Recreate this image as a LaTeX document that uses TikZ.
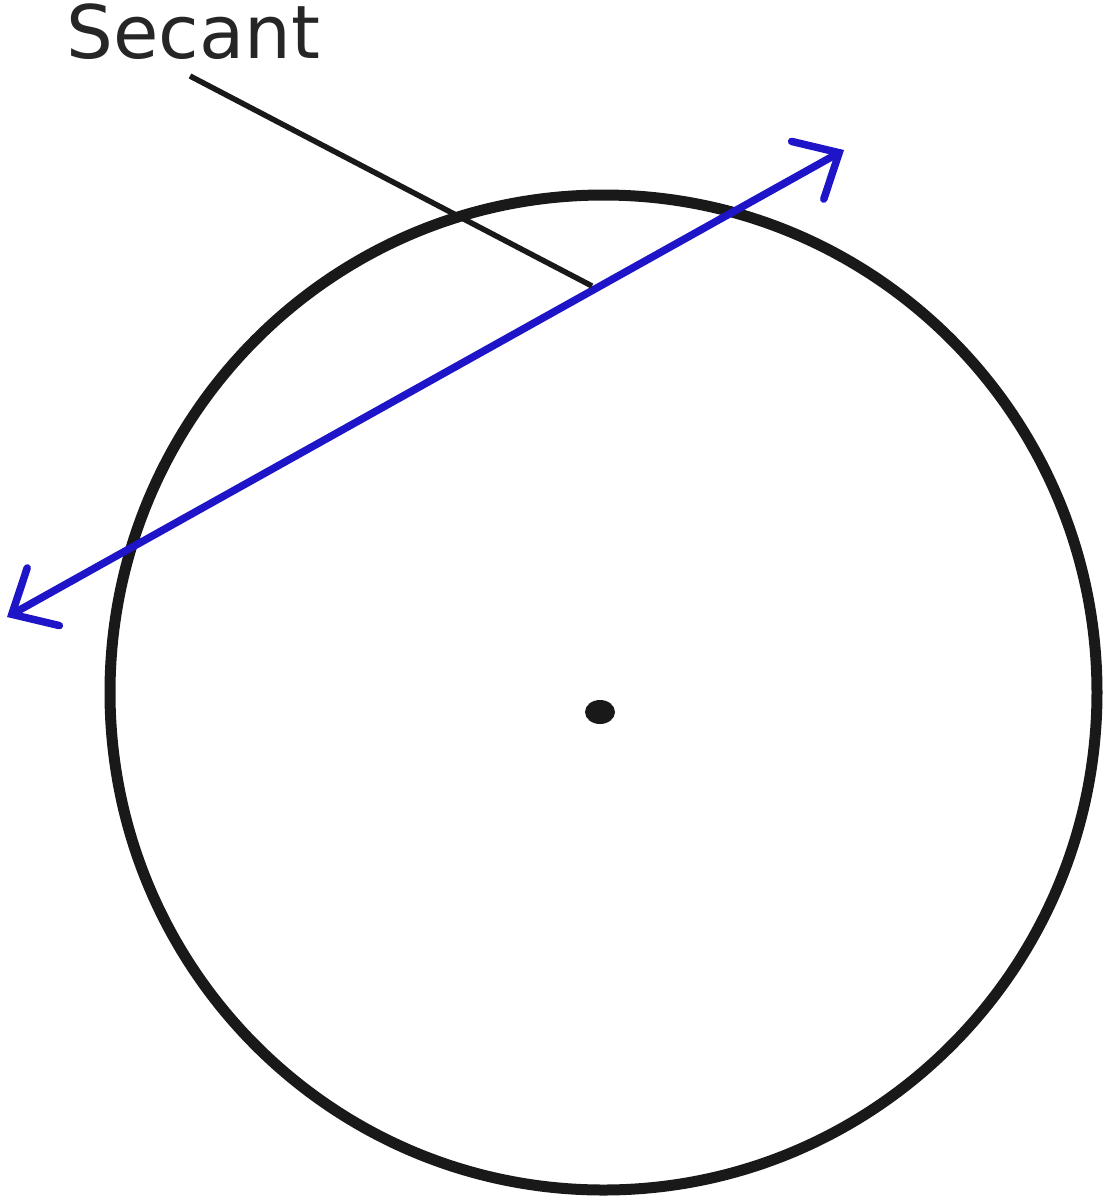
\documentclass[tikz,border=0pt]{standalone}
\usepackage{fontspec}
\setmainfont{DejaVu Sans}
\usetikzlibrary{arrows.meta}
\definecolor{secblue}{RGB}{30,20,200}
\tikzset{
  circ/.style={draw=black!90, line width=0.11cm},
  secline/.style={draw=secblue, line width=0.075cm, line cap=round,
    {Straight Barb[length=3.6mm,width=6.6mm,line cap=round]}-{Straight Barb[length=3.6mm,width=6.6mm,line cap=round]}},
  leader/.style={draw=black!90, line width=0.055cm},
  lbl/.style={font=\fontsize{21}{24}\selectfont, text=black!85, inner sep=0pt}
}
\begin{document}
\begin{tikzpicture}
\useasboundingbox (0,0) rectangle (11.1,-12);
\coordinate (C) at (6.035,-6.925);
\draw[circ] (C) ellipse [x radius=4.935, y radius=4.975];
\fill[black!90] (6.0,-7.12) ellipse [x radius=0.15, y radius=0.12];
\coordinate (L) at (0.07,-6.17);
\coordinate (R) at (8.44,-1.50);
\draw[secline] (L) -- (R);
\node[lbl, anchor=base west] (S) at (0.66,-0.58) {Secant};
\coordinate (LS) at (1.9,-0.76);
\coordinate (LE) at (5.92,-2.86);
\draw[leader] (LS) -- (LE);
\end{tikzpicture}
\end{document}
